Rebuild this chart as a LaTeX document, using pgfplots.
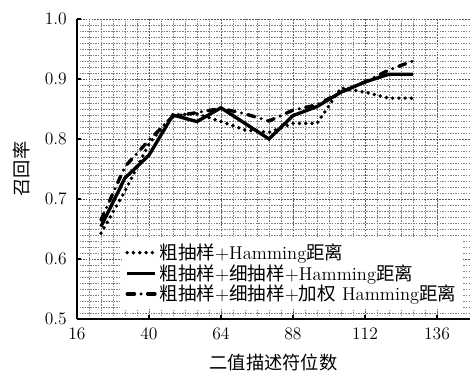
\documentclass[border=0pt]{standalone}
\usepackage{fontspec}
\newfontfamily\cjk{Noto Sans CJK SC}
\usepackage{pgfplots}
\pgfplotsset{compat=1.18}
\begin{document}
\begin{tikzpicture}
\begin{axis}[
  scale only axis, width=269.2pt, height=205.5pt,
  xmin=16, xmax=147, ymin=0.5, ymax=1.0,
  axis x line=bottom, axis y line=left,
  axis line style={-, line width=0.8pt},
  xtick={16,40,64,88,112,136}, ytick={0.5,0.6,0.7,0.8,0.9,1.0},
  minor x tick num=5, minor y tick num=9,
  grid=both,
  major grid style={black!65, dash pattern=on 1.2pt off 0.8pt, line width=0.35pt},
  minor grid style={black!50, dash pattern=on 1pt off 0.8pt, line width=0.3pt},
  tick align=inside, major tick length=3pt, minor tick length=0pt,
  tick style={black, line width=0.8pt},
  tick label style={font=\fontsize{11.5}{13}\selectfont},
  yticklabel style={/pgf/number format/fixed, /pgf/number format/fixed zerofill, /pgf/number format/precision=1, xshift=-3.5pt},
  xticklabel style={yshift=-3pt},
  xlabel={\cjk 二值描述符位数}, ylabel={\cjk 召回率},
  xlabel style={at={(axis description cs:0.5,-0.146)}, anchor=center, font=\fontsize{12.5}{15}\selectfont},
  ylabel style={at={(axis description cs:-0.141,0.5)}, anchor=center, font=\fontsize{12.5}{15}\selectfont},
  legend style={at={(axis description cs:0.113,0.273)}, anchor=north west, draw=none, fill=white, font=\fontsize{12.7}{15}\selectfont, row sep=-1.7pt, inner sep=2.5pt, nodes={inner sep=1.8pt}},
  legend cell align=left,
  legend image code/.code={\draw[#1] (0pt,0pt) -- (19pt,0pt);},
]
\addplot[black, line width=2.6pt, line cap=round, dash pattern=on 0pt off 4.3pt] coordinates {
(24,0.643) (32,0.713) (40,0.792) (48,0.840) (56,0.842) (64,0.829) (72,0.815) (80,0.811) (88,0.826) (96,0.826) (104,0.885) (112,0.878) (120,0.868) (128,0.868)};
\addlegendentry{{\cjk 粗抽样}+Hamming{\cjk 距离}}
\addplot[black, line width=2.3pt] coordinates {
(24,0.654) (32,0.735) (40,0.773) (48,0.840) (56,0.829) (64,0.852) (72,0.826) (80,0.800) (88,0.839) (96,0.854) (104,0.878) (112,0.895) (120,0.908) (128,0.908)};
\addlegendentry{{\cjk 粗抽样}+{\cjk 细抽样}+Hamming{\cjk 距离}}
\addplot[black, line width=2.3pt, line cap=round, dash pattern=on 5pt off 4.5pt on 0pt off 4.5pt] coordinates {
(24,0.665) (32,0.754) (40,0.798) (48,0.838) (56,0.844) (64,0.851) (72,0.842) (80,0.830) (88,0.848) (96,0.857) (104,0.878) (112,0.895) (120,0.915) (128,0.930)};
\addlegendentry{{\cjk 粗抽样}+{\cjk 细抽样}+{\cjk 加权} Hamming{\cjk 距离}}
\end{axis}
\pgfresetboundingbox
\path[use as bounding box] (-52.7pt,-37.7pt) rectangle (269.2pt,218.5pt);
\end{tikzpicture}
\end{document}
